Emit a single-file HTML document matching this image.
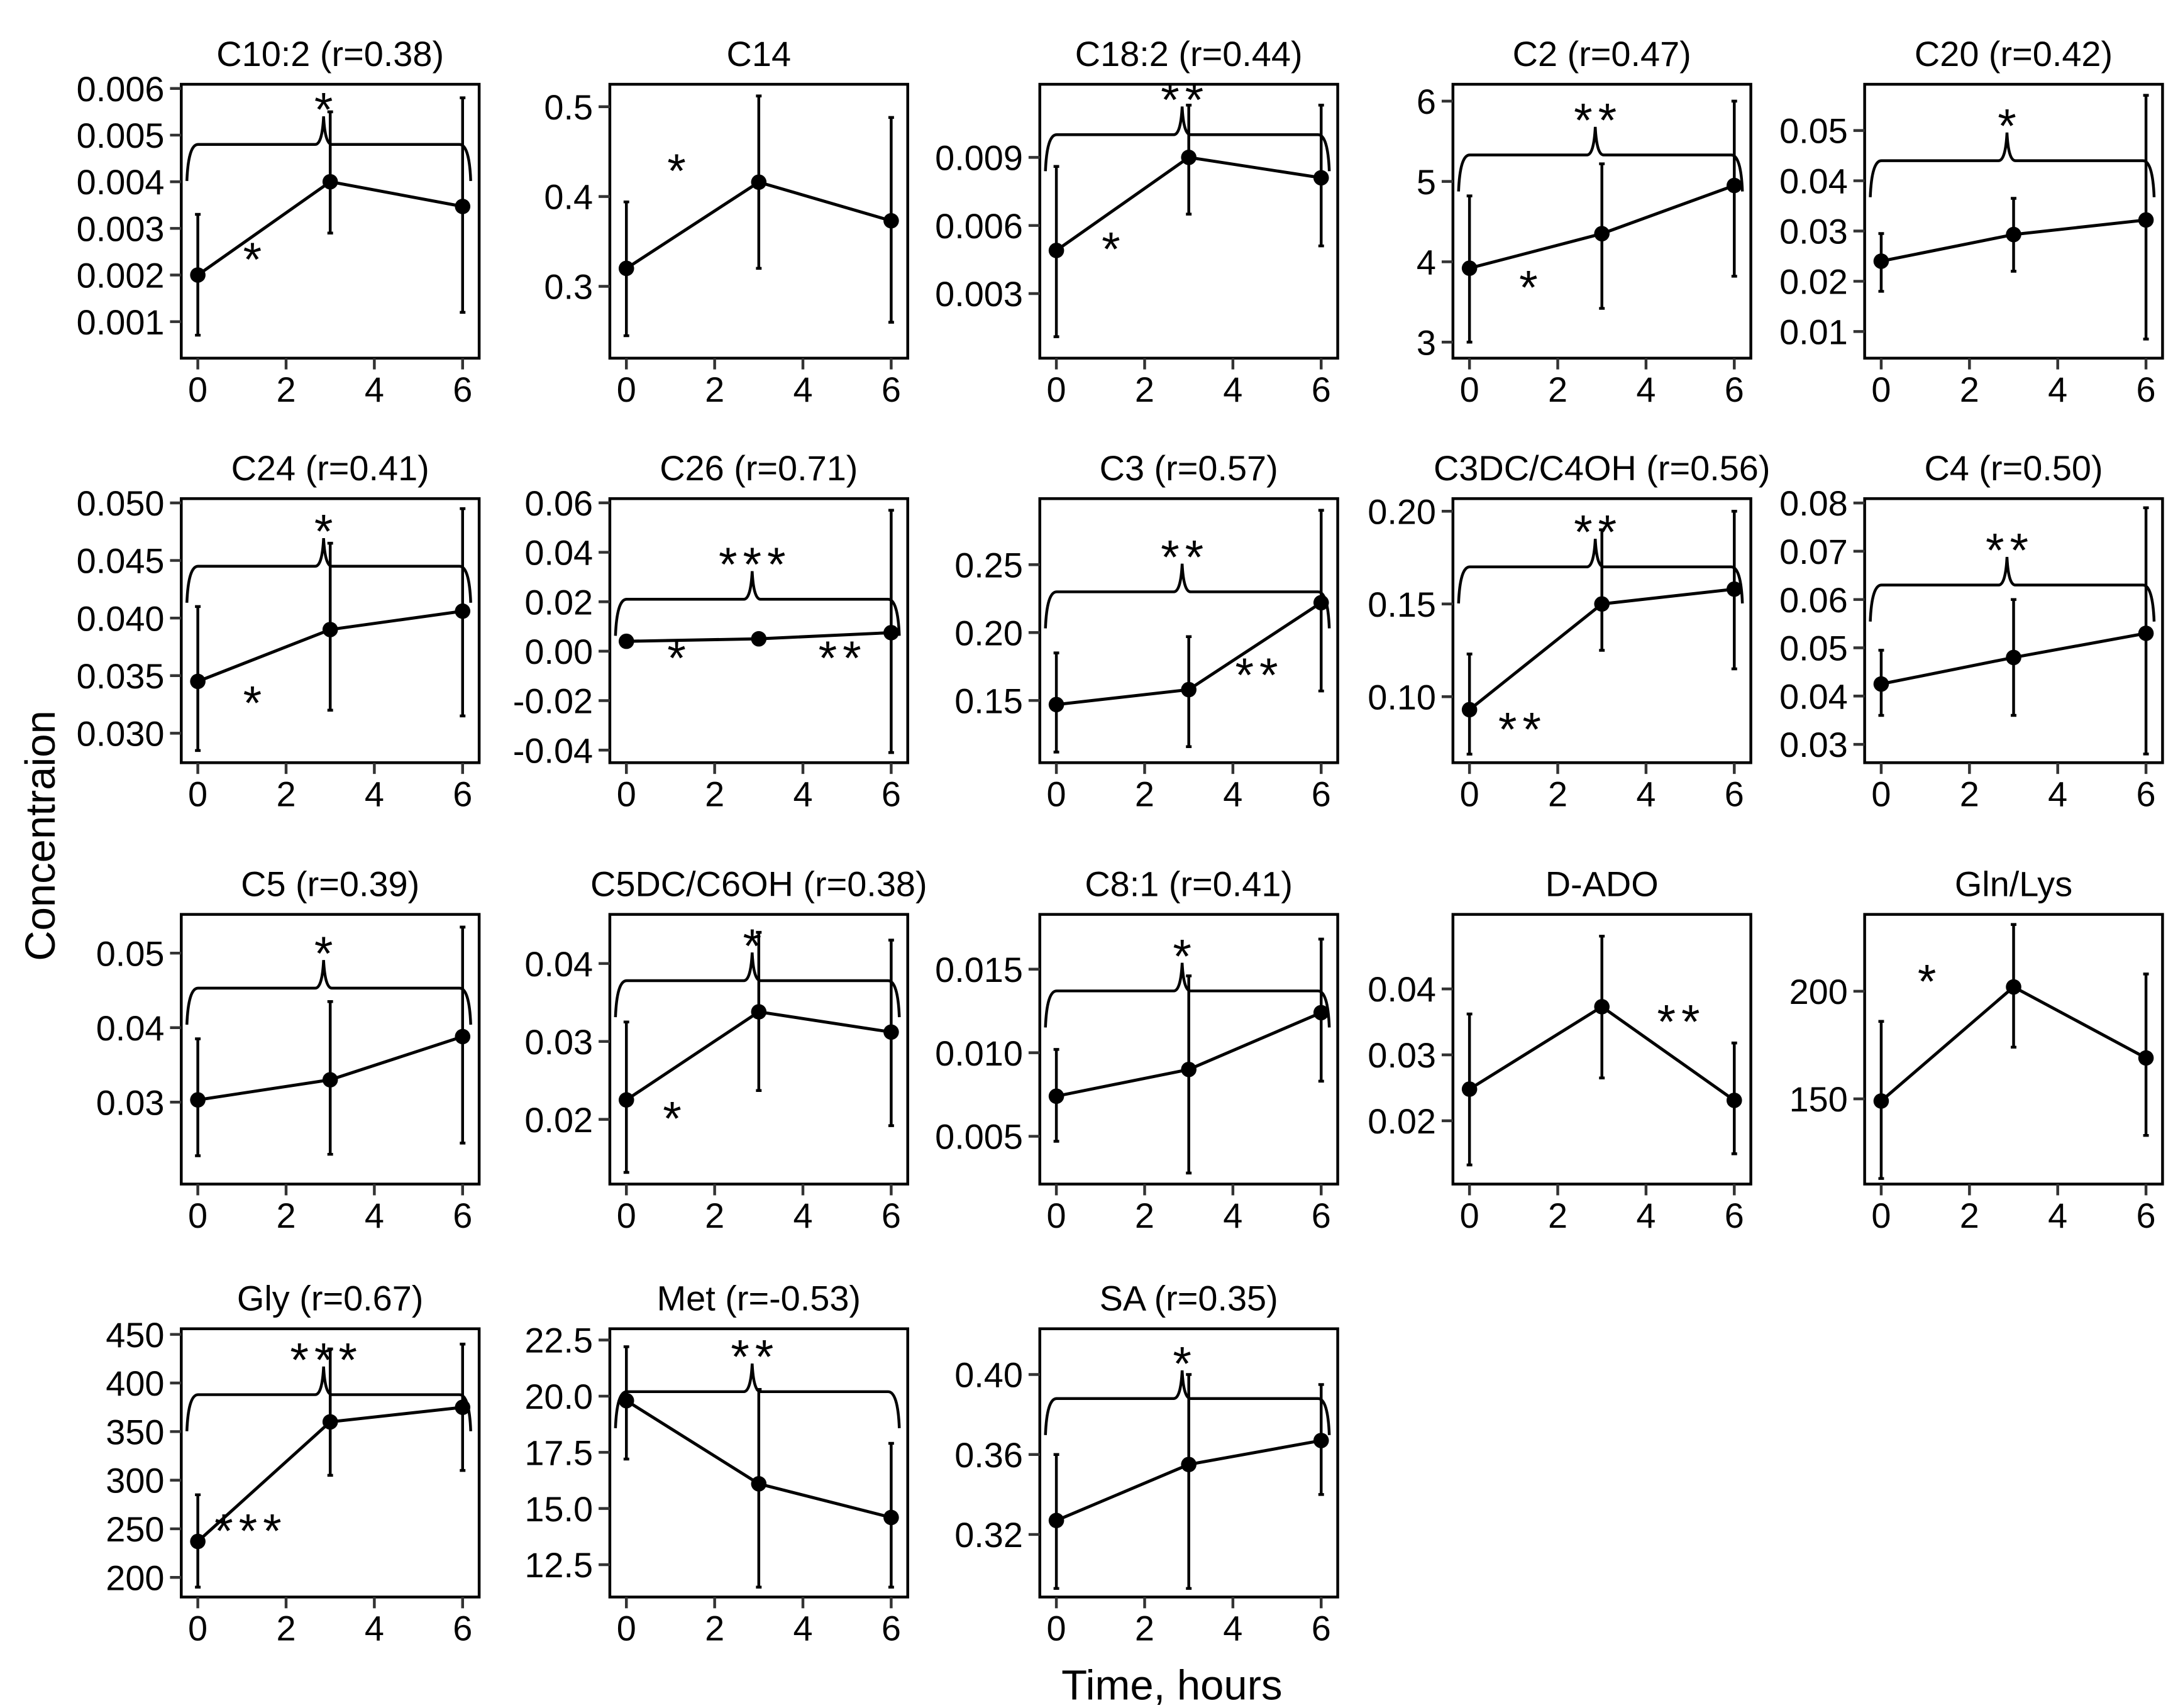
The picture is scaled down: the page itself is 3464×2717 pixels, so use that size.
<!DOCTYPE html>
<html><head><meta charset="utf-8"><style>
html,body{margin:0;padding:0;background:#fff}
svg{display:block}
text{font-family:"Liberation Sans",Arial,sans-serif}
</style></head><body>
<svg id="fig" xmlns="http://www.w3.org/2000/svg" width="3464" height="2717" viewBox="0 0 1550 1216" preserveAspectRatio="none">
<rect width="1550" height="1216" fill="#fff"/>
<text x="0" y="0" transform="translate(39,595) rotate(-90)" font-size="30" text-anchor="middle">Concentraion</text>
<text x="834" y="1210" font-size="30" text-anchor="middle">Time, hours</text>
</svg>
<script>
const times = [0, 3, 6];
const xTickLabels = ["0","2","4","6"];
const titles = ["C10:2 (r=0.38)","C14","C18:2 (r=0.44)","C2 (r=0.47)","C20 (r=0.42)","C24 (r=0.41)","C26 (r=0.71)","C3 (r=0.57)","C3DC/C4OH (r=0.56)","C4 (r=0.50)","C5 (r=0.39)","C5DC/C6OH (r=0.38)","C8:1 (r=0.41)","D-ADO","Gln/Lys","Gly (r=0.67)","Met (r=-0.53)","SA (r=0.35)"];
const means = [[0.002,0.0040,0.00347],[0.32,0.416,0.373],[0.0049,0.0090,0.0081],[3.92,4.35,4.95],[0.024,0.0293,0.0322],[0.0345,0.039,0.0406],[0.004,0.005,0.0075],[0.147,0.158,0.222],[0.093,0.150,0.158],[0.0425,0.048,0.053],[0.0303,0.033,0.0388],[0.0225,0.0338,0.0312],[0.0074,0.009,0.0124],[0.0248,0.0373,0.0231],[149,202,169],[237,360,375],[19.8,16.1,14.6],[0.327,0.355,0.367]];
const errLow = [[0.00071,0.0029,0.0012],[0.245,0.32,0.26],[0.0011,0.0065,0.0051],[3.0,3.42,3.82],[0.018,0.022,0.0085],[0.0285,0.032,0.0315],[0.004,0.005,-0.041],[0.112,0.116,0.157],[0.069,0.125,0.115],[0.036,0.036,0.028],[0.0228,0.023,0.0245],[0.0132,0.0237,0.0192],[0.0047,0.0028,0.0083],[0.0133,0.0265,0.015],[113,174,133],[190,305,310],[17.2,11.5,11.5],[0.293,0.293,0.34]];
const errHigh = [[0.0033,0.0055,0.0058],[0.394,0.512,0.488],[0.0086,0.0113,0.0113],[4.82,5.22,6.0],[0.0295,0.0365,0.057],[0.041,0.0465,0.0495],[0.004,0.005,0.057],[0.185,0.197,0.29],[0.123,0.19,0.2],[0.0495,0.060,0.079],[0.0385,0.0435,0.0535],[0.0325,0.044,0.043],[0.0102,0.0146,0.0168],[0.0362,0.048,0.0318],[186,231,208],[285,435,440],[22.2,20.3,17.9],[0.36,0.40,0.395]];
const yDomains = [[0.000217,0.00609],[0.22,0.525],[0.000155,0.01222],[2.8,6.21],[0.0047,0.0592],[0.02744,0.05037],[-0.0451,0.0617],[0.1042,0.2986],[0.0644,0.2068],[0.0262,0.0809],[0.019,0.0552],[0.0117,0.0463],[0.00214,0.01828],[0.0104,0.0513],[110.4,235.7],[179.8,455.8],[11.06,23.0],[0.2887,0.4229]];
const yTicks = [["0.001","0.002","0.003","0.004","0.005","0.006"],["0.3","0.4","0.5"],["0.003","0.006","0.009"],["3","4","5","6"],["0.01","0.02","0.03","0.04","0.05"],["0.030","0.035","0.040","0.045","0.050"],["-0.04","-0.02","0.00","0.02","0.04","0.06"],["0.15","0.20","0.25"],["0.10","0.15","0.20"],["0.03","0.04","0.05","0.06","0.07","0.08"],["0.03","0.04","0.05"],["0.02","0.03","0.04"],["0.005","0.010","0.015"],["0.02","0.03","0.04"],["150","200"],["200","250","300","350","400","450"],["12.5","15.0","17.5","20.0","22.5"],["0.32","0.36","0.40"]];
const bracketLevel = [0.0048,null,0.0100,5.33,0.044,0.0445,0.021,0.23,0.17,0.063,0.0453,0.0378,0.0137,null,null,388,20.2,0.388];
const bracketStars = ["*","","**","**","*","*","***","**","**","**","*","*","*","","","***","**","*"];
// free-floating significance labels: [panel, x (hours), y (value), label]
const noteStars = [[0,1.3,0.0024,"*"],[1,1.2,0.432,"*"],[2,1.3,0.0051,"*"],[3,1.4,3.72,"*"],[5,1.3,0.0329,"*"],[6,1.2,-0.0015,"*"],[6,4.9,-0.0015,"**"],[7,4.6,0.171,"**"],[8,1.2,0.084,"**"],[11,1.1,0.0205,"*"],[13,4.8,0.0355,"**"],[14,1.1,206,"*"],[15,1.2,251,"***"]];

const NS="http://www.w3.org/2000/svg";
const svg=document.getElementById('fig');
const colLeft=[129,434,740,1034,1327];
const rowTop=[60,355,651,946], rowBot=[255,543,843,1137];
const PW=212;
function mk(tag,attrs,parent){const e=document.createElementNS(NS,tag);for(const k in attrs)e.setAttribute(k,attrs[k]);(parent||svg).appendChild(e);return e;}

titles.forEach((title,i)=>{
  const L=colLeft[i%5], T=rowTop[Math.floor(i/5)], B=rowBot[Math.floor(i/5)], R=L+PW;
  const g=mk('g',{});
  
  
  const xs=v=>L+(v+0.375)/6.75*PW;
  const [y0,y1]=yDomains[i];
  const ys=v=>B-(v-y0)/(y1-y0)*(B-T);
  const t=mk('text',{x:(L+R)/2,y:T-13,'font-size':25,'text-anchor':'middle'},g);t.textContent=title;
  
  
  const box=mk('rect',{x:L,y:T,width:PW,height:B-T,fill:'none',stroke:'#000','stroke-width':2},g);
  
  
  xTickLabels.forEach(lb=>{const v=+lb;const x=xs(v);
    mk('line',{x1:x,x2:x,y1:B,y2:B+8,stroke:'#333','stroke-width':2},g);
    const tx=mk('text',{x:x,y:B+31,'font-size':25,'text-anchor':'middle'},g);tx.textContent=lb;
    
    
  });
  yTicks[i].forEach(lb=>{const y=ys(+lb);
    mk('line',{x1:L-8,x2:L,y1:y,y2:y,stroke:'#333','stroke-width':2},g);
    const tx=mk('text',{x:L-12,y:y+9,'font-size':25,'text-anchor':'end'},g);tx.textContent=lb;
    
    
  });
  times.forEach((tt,j)=>{const x=xs(tt);
    const eb=mk('path',{d:`M${x-2},${ys(errLow[i][j])}H${x+2}M${x},${ys(errLow[i][j])}V${ys(errHigh[i][j])}M${x-2},${ys(errHigh[i][j])}H${x+2}`,stroke:'#000','stroke-width':2,fill:'none'},g);
    
    
  });
  const ln=mk('polyline',{points:times.map((tt,j)=>xs(tt)+','+ys(means[i][j])).join(' '),fill:'none',stroke:'#000','stroke-width':2.2},g);
  
  
  times.forEach((tt,j)=>{
    const c=mk('circle',{cx:xs(tt),cy:ys(means[i][j]),r:5.5,fill:'#000'},g);
    
    
  });
  if(bracketLevel[i]!==null){
    const yb=ys(bracketLevel[i]);const xl=L+4,xr=R-6,xc=xs(2.85);
    const br=mk('path',{d:`M${xl},${yb+26}Q${xl+1},${yb} ${xl+8},${yb}L${xc-6},${yb}Q${xc-1},${yb} ${xc},${yb-20}Q${xc+1},${yb} ${xc+6},${yb}L${xr-8},${yb}Q${xr-1},${yb} ${xr},${yb+26}`,fill:'none',stroke:'#000','stroke-width':2},g);
    
    
    const st=mk('text',{x:xc+2,y:yb-27+14,'font-size':34,'text-anchor':'middle','letter-spacing':4},g);st.textContent=bracketStars[i];
    
    
  }
});
noteStars.forEach(n=>{
  const i=n[0];const L=colLeft[i%5],T=rowTop[Math.floor(i/5)],B=rowBot[Math.floor(i/5)];
  const xs=v=>L+(v+0.375)/6.75*PW;const [y0,y1]=yDomains[i];const ys=v=>B-(v-y0)/(y1-y0)*(B-T);
  const st=mk('text',{x:xs(n[1]),y:ys(n[2])+14,'font-size':34,'text-anchor':'middle','letter-spacing':4});
  st.textContent=n[3];
  
  
});
</script>
</body></html>
